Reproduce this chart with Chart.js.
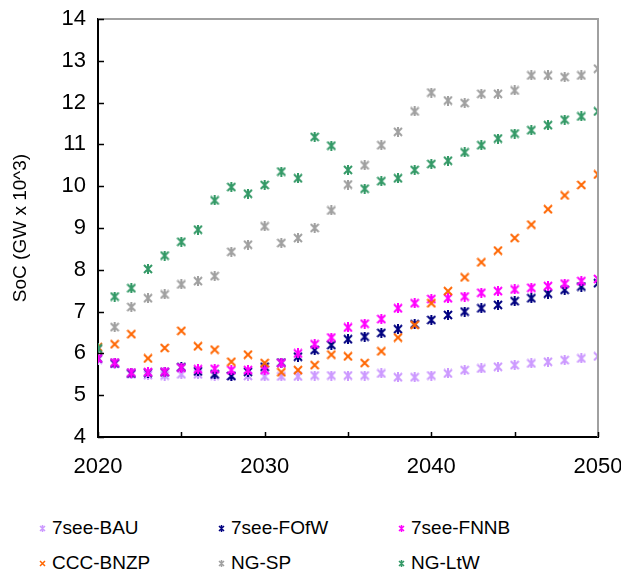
<!DOCTYPE html>
<html>
<head>
<meta charset="utf-8">
<script src="https://cdn.jsdelivr.net/npm/chart.js@4.4.1/dist/chart.umd.min.js"></script>
<style>
  body { margin: 0; background: #fff; font-family: "Liberation Sans", Arial, sans-serif; }
  #wrap { position: relative; width: 621px; height: 578px; }
  #chart { position: absolute; left: 0; top: 0; }
  .legend-item { position: absolute; display: flex; align-items: center; font-size: 19px; color: #000; height: 24px; }
  .legend-item canvas { margin-right: 6px; }
</style>
</head>
<body>
<div id="wrap">
  <canvas id="chart" width="621" height="490"></canvas>
  <div id="legend"></div>
</div>
<script>
const years = [2020, 2021, 2022, 2023, 2024, 2025, 2026, 2027, 2028, 2029, 2030,
  2031, 2032, 2033, 2034, 2035, 2036, 2037, 2038, 2039, 2040,
  2041, 2042, 2043, 2044, 2045, 2046, 2047, 2048, 2049, 2050];

const bau = [5.85, 5.75, 5.50, 5.48, 5.47, 5.50, 5.50, 5.47, 5.46, 5.46, 5.45,
  5.45, 5.45, 5.47, 5.47, 5.47, 5.47, 5.52, 5.43, 5.43, 5.47,
  5.52, 5.60, 5.64, 5.68, 5.72, 5.76, 5.80, 5.84, 5.88, 5.93];

const fofw = [5.88, 5.76, 5.52, 5.54, 5.55, 5.67, 5.57, 5.50, 5.46, 5.56, 5.68,
  5.78, 5.92, 6.08, 6.20, 6.34, 6.40, 6.49, 6.58, 6.70, 6.80,
  6.92, 7.00, 7.08, 7.16, 7.25, 7.32, 7.43, 7.52, 7.60, 7.68];

const fnnb = [5.88, 5.78, 5.54, 5.55, 5.56, 5.66, 5.62, 5.63, 5.60, 5.60, 5.60,
  5.77, 6.00, 6.22, 6.38, 6.62, 6.71, 6.82, 7.08, 7.20, 7.30,
  7.32, 7.36, 7.45, 7.49, 7.53, 7.57, 7.61, 7.67, 7.73, 7.78];

const bnzp = [6.15, 6.22, 6.46, 5.88, 6.13, 6.54, 6.17, 6.09, 5.80, 5.97, 5.77,
  5.55, 5.60, 5.72, 5.97, 5.93, 5.77, 6.05, 6.38, 6.68, 7.20,
  7.49, 7.82, 8.18, 8.46, 8.76, 9.08, 9.45, 9.78, 10.03, 10.28];

const ngsp = [6.10, 6.63, 7.11, 7.32, 7.41, 7.65, 7.73, 7.85, 8.43, 8.60, 9.04,
  8.64, 8.76, 9.00, 9.42, 10.04, 10.50, 10.98, 11.30, 11.79, 12.24,
  12.05, 11.99, 12.21, 12.21, 12.29, 12.65, 12.65, 12.61, 12.65, 12.81];

const ngltw = [6.12, 7.36, 7.56, 8.02, 8.34, 8.67, 8.96, 9.66, 9.98, 9.82, 10.03,
  10.35, 10.19, 11.18, 10.97, 10.39, 9.94, 10.12, 10.19, 10.39, 10.53,
  10.61, 10.81, 10.98, 11.14, 11.26, 11.34, 11.46, 11.59, 11.67, 11.79];

const seriesNames = ["7see-BAU", "7see-FOfW", "7see-FNNB", "CCC-BNZP", "NG-SP", "NG-LtW"];
const seriesValues = [bau, fofw, fnnb, bnzp, ngsp, ngltw];
const seriesColors = ["#CC99FF", "#000080", "#FF00FF", "#FF6600", "#A0A0A0", "#339966"];
const seriesMarkers = ["star", "star", "star", "cross", "star", "star"];

const yTicks = [4, 5, 6, 7, 8, 9, 10, 11, 12, 13, 14];
const xTicks = [2020, 2025, 2030, 2035, 2040, 2045, 2050];
const xTickLabels = [2020, 2030, 2040, 2050];

const FONT = "'Liberation Sans', Arial, sans-serif";

function makeMarker(color, kind, size, lineWidth) {
  const c = document.createElement("canvas");
  c.width = size;
  c.height = size;
  const ctx = c.getContext("2d");
  ctx.strokeStyle = color;
  ctx.lineWidth = lineWidth;
  const a = 1;
  const b = size - 1;
  ctx.beginPath();
  ctx.moveTo(a, a);
  ctx.lineTo(b, b);
  ctx.moveTo(b, a);
  ctx.lineTo(a, b);
  if (kind === "star") {
    ctx.moveTo(size / 2, 0);
    ctx.lineTo(size / 2, size);
  }
  ctx.stroke();
  return c;
}

// tick marks inside the plot, plus the grey top/right frame
const frameTicks = {
  id: "frameTicks",
  afterDraw(chart) {
    const { ctx, chartArea } = chart;
    const xs = chart.scales.x;
    const ys = chart.scales.y;
    ctx.save();
    ctx.strokeStyle = "#A0A0A0";
    ctx.lineWidth = 2;
    ctx.beginPath();
    ctx.moveTo(chartArea.left, chartArea.top);
    ctx.lineTo(chartArea.right, chartArea.top);
    ctx.lineTo(chartArea.right, chartArea.bottom);
    ctx.stroke();

    ctx.strokeStyle = "#000";
    ctx.lineWidth = 1.5;
    ctx.beginPath();
    xs.ticks.forEach((t) => {
      const px = Math.round(xs.getPixelForValue(t.value)) + 0.5;
      ctx.moveTo(px, chartArea.bottom);
      ctx.lineTo(px, chartArea.bottom - 5);
    });
    ys.ticks.forEach((t) => {
      const py = Math.round(ys.getPixelForValue(t.value)) + 0.5;
      ctx.moveTo(chartArea.left, py);
      ctx.lineTo(chartArea.left + 6, py);
    });
    ctx.stroke();
    ctx.restore();
  },
};

const datasets = seriesNames.map((name, i) => ({
  label: name,
  data: years.map((yr, j) => ({ x: yr, y: seriesValues[i][j] })),
  pointStyle: makeMarker(seriesColors[i], seriesMarkers[i], 10, 2),
  pointRadius: 5,
  borderColor: seriesColors[i],
  backgroundColor: seriesColors[i],
  showLine: false,
  order: seriesNames.length - i,
}));

new Chart(document.getElementById("chart"), {
  type: "scatter",
  data: { datasets },
  options: {
    responsive: false,
    devicePixelRatio: 1,
    animation: false,
    layout: { autoPadding: false, padding: { left: 0, right: 23, top: 19, bottom: 0 } },
    plugins: {
      legend: { display: false },
      tooltip: { enabled: false },
    },
    scales: {
      x: {
        type: "linear",
        min: 2020,
        max: 2050,
        afterFit: (scale) => {
          scale.height = 53;
          scale.paddingLeft = 0;
          scale.paddingRight = 0;
        },
        afterBuildTicks: (scale) => {
          scale.ticks = xTicks.map((v) => ({ value: v }));
        },
        ticks: {
          autoSkip: false,
          maxRotation: 0,
          padding: 17,
          color: "#000",
          font: { family: FONT, size: 22 },
          callback: (v) => (xTickLabels.includes(v) ? String(v) : ""),
        },
        grid: { display: false, drawTicks: false },
        border: { display: true, color: "#000", width: 2 },
      },
      y: {
        min: 4,
        max: 14,
        afterFit: (scale) => {
          scale.width = 98;
          scale.paddingTop = 0;
          scale.paddingBottom = 0;
        },
        afterBuildTicks: (scale) => {
          scale.ticks = yTicks.map((v) => ({ value: v }));
        },
        ticks: {
          padding: 12,
          color: "#000",
          font: { family: FONT, size: 22 },
        },
        title: {
          display: true,
          text: "SoC (GW x 10^3)",
          color: "#000",
          font: { family: FONT, size: 19 },
          padding: { top: 9, bottom: 0 },
        },
        grid: { display: false, drawTicks: false },
        border: { display: true, color: "#000", width: 2 },
      },
    },
  },
  plugins: [frameTicks],
});

// legend: 3 columns x 2 rows below the plot
const legendCols = [39, 218, 398];
const legendRows = [516, 551];
const legendEl = document.getElementById("legend");
seriesNames.forEach((name, i) => {
  const item = document.createElement("div");
  item.className = "legend-item";
  item.style.left = legendCols[i % 3] + "px";
  item.style.top = legendRows[Math.floor(i / 3)] + "px";
  item.appendChild(makeMarker(seriesColors[i], seriesMarkers[i], 7, 1.5));
  const label = document.createElement("span");
  label.textContent = name;
  item.appendChild(label);
  legendEl.appendChild(item);
});
</script>
</body>
</html>
